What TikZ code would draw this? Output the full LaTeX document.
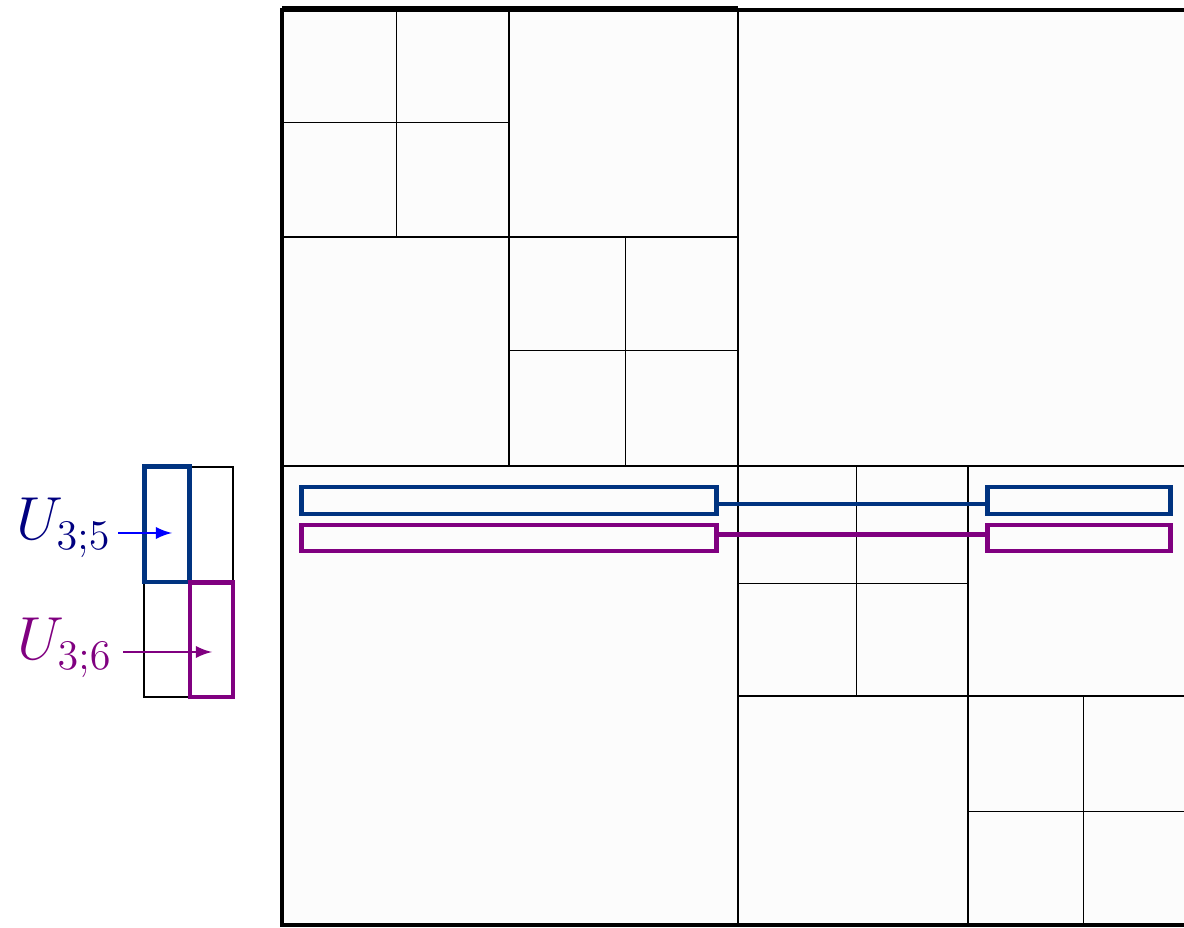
\documentclass[tikz,border=0pt]{standalone}
\usepackage{tikz}
\usetikzlibrary{arrows,calc}
\usepackage{xcolor}
\definecolor{qqzzcc}{rgb}{0,0.2,0.5}
\definecolor{ccqqcc}{rgb}{0.5,0,0.5}
\definecolor{qqqqcc}{rgb}{0,0,0.5}
\definecolor{qqqqff}{rgb}{0,0,1}
\definecolor{fcfcfc}{rgb}{0.988,0.988,0.988}

\begin{document}
\begin{tikzpicture}[ubox/.style={draw=#1, line width=1.4pt, inner sep=0pt, outer sep=0pt},x=0.01cm,y=-0.01cm,>=latex,font=\LARGE,scale=1]
\clip(0,0) rectangle (1184,928);
\useasboundingbox (0,0) rectangle (1184,928);
\fill [color=fcfcfc] (282,10) rectangle (1196,925);
% leaves
\draw [line width=0.25pt] (396,10)-- (396,237);
\draw [line width=0.25pt] (282,122)-- (509,122);
\draw [line width=0.25pt] (625,237)-- (625,466);
\draw [line width=0.25pt] (509,350)-- (738,350);
\draw [line width=0.25pt] (856,466)-- (856,696);
\draw [line width=0.25pt] (738,583)-- (968,583);
\draw [line width=0.25pt] (1083,696)-- (1083,925);
\draw [line width=0.25pt] (968,811)-- (1196,811);
% second level
\draw [line width=0.6pt] (509,10)-- (509,466);
\draw [line width=0.6pt] (282,237)-- (738,237);
\draw [line width=0.6pt] (968,466)-- (968,925);
\draw [line width=0.6pt] (738,696)-- (1196,696);
% first level
\draw [line width=0.7pt] (738,10)-- (738,925);
\draw [line width=0.7pt] (282,466)-- (1196,466);
\draw [line width=1.15pt] (282,10) rectangle (1196,925);
\draw [line width=1.15pt] (282,8)-- (738,8);
% rows of the blocks
\node [ubox=qqzzcc, minimum width=4.15cm, minimum height=0.27cm] (b1) at (509,500.5) {};
\node [ubox=qqzzcc, minimum width=1.82cm, minimum height=0.27cm] (b2) at (1079,500.5) {};
\node [ubox=ccqqcc, minimum width=4.15cm, minimum height=0.26cm] (p1) at (509,538) {};
\node [ubox=ccqqcc, minimum width=1.82cm, minimum height=0.26cm] (p2) at (1079,538) {};
\draw [line width=1.4pt,color=qqzzcc] ($(b1.east)+(0,3.5)$)-- ($(b2.west)+(0,3.5)$);
\draw [line width=1.4pt,color=ccqqcc] ($(p1.east)+(0,-3.5)$)-- ($(p2.west)+(0,-3.5)$);
% small matrix
\draw [line width=0.6pt] (144,467) rectangle (233,697);
\node [ubox=qqzzcc, minimum width=0.45cm, minimum height=1.15cm] (u5) at (167,524.5) {};
\node [ubox=ccqqcc, minimum width=0.43cm, minimum height=1.14cm] (u6) at (211.5,640) {};
\coordinate (t5) at (172,533);
\coordinate (t6) at (212,652);
\node [anchor=base east, inner sep=0pt, text=qqqqcc] (l5) at (112,540) {$U_{3;5}$};
\node [anchor=base east, inner sep=0pt, text=ccqqcc] (l6) at (113,660) {$U_{3;6}$};
\draw [->,line width=0.6pt,color=qqqqff] (l5.east |- t5)++(6,0)-- (t5);
\draw [->,line width=0.6pt,color=ccqqcc] (l6.east |- t6)++(10,0)-- (t6);
\end{tikzpicture}
\end{document}
